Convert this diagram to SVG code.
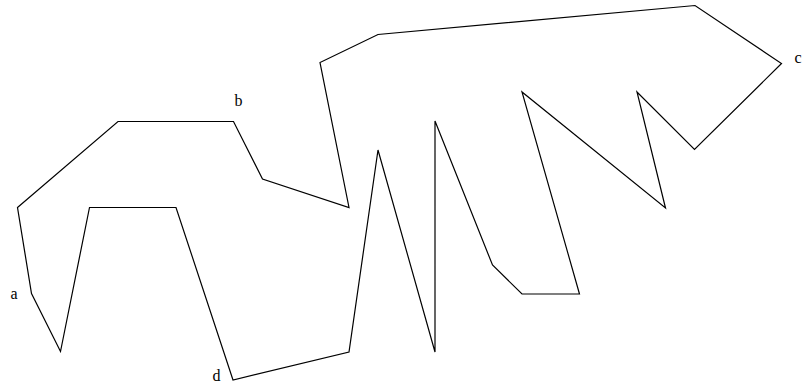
<svg xmlns="http://www.w3.org/2000/svg" width="812" height="387" viewBox="0 0 812 387">
<style>
.shape{fill:none;stroke:#000;stroke-width:1.2;stroke-linejoin:miter}
.lbl{font-family:"Liberation Serif","DejaVu Serif",serif;font-size:16px;fill:#000}
</style>
<rect width="812" height="387" fill="#fff"/>
<g id="connectors">
<polygon id="outline" class="shape" points="17.5,207.5 118,121.5 233.5,121.5 262.5,179 349,207.5 320,62.5 378,34.5 695,5.5 781.5,63.5 694.5,149.5 637,92 665.5,208 522,92 579.5,294 522,294 492.5,265 435,121 435,352 378,150 349,352 233,380 176,207.5 89.5,207.5 60.5,351.5 31.5,293.5 17.5,207.5"/>
</g>
<g id="a"><text class="lbl" x="10.5" y="299">a</text></g>
<g id="b"><text class="lbl" x="234.5" y="106">b</text></g>
<g id="c"><text class="lbl" x="794.5" y="63">c</text></g>
<g id="d"><text class="lbl" x="212.5" y="381">d</text></g>
</svg>
